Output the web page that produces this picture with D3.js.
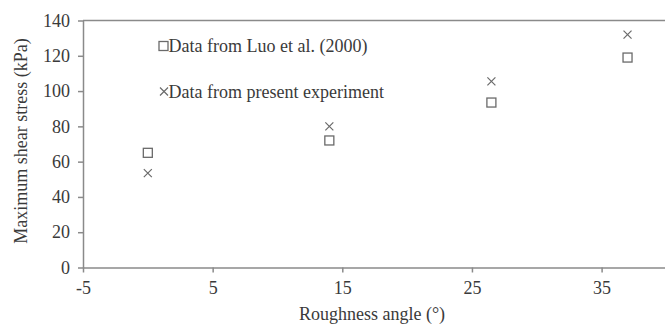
<!DOCTYPE html>
<html>
<head>
<meta charset="utf-8">
<script src="https://cdn.jsdelivr.net/npm/d3@7"></script>
<style>
  body { margin: 0; background: #fff; }
  svg text { font-family: 'Liberation Serif', 'DejaVu Serif', serif; fill: #3a3a3a; }
</style>
</head>
<body>
<div id="chart"></div>
<script>
// values
const angles = [0, 14, 26.5, 37];
const luoStress = [65, 72, 93.5, 119];
const presentStress = [53.5, 80, 105.5, 132];
const xTicks = [-5, 5, 15, 25, 35];
const yTicks = [0, 20, 40, 60, 80, 100, 120, 140];
const legendLabels = ['Data from Luo et al. (2000)', 'Data from present experiment'];

const width = 665, height = 324;
const margin = { left: 83, top: 20.5, right: 0, bottom: 57 };
const serif = "'Liberation Serif', 'DejaVu Serif', serif";

const svg = d3.select('#chart').append('svg')
    .attr('width', width)
    .attr('height', height)
    .attr('font-family', serif);

const x = d3.scaleLinear()
    .domain([-5, -5 + (width - margin.left) / 12.965])
    .range([margin.left, width]);

const y = d3.scaleLinear()
    .domain([0, 140])
    .range([height - margin.bottom + 0.5, margin.top]);

const axisColor = '#8a8a8a';
const markColor = '#6a6a6a';

// top border of the plot area
svg.append('line')
    .attr('x1', margin.left).attr('x2', width)
    .attr('y1', y(140)).attr('y2', y(140))
    .attr('stroke', axisColor).attr('stroke-width', 1.5);

const xAxis = svg.append('g')
    .attr('transform', `translate(0,${y(0)})`)
    .call(d3.axisBottom(x).tickValues(xTicks).tickFormat(d => String(d))
        .tickSize(5).tickSizeOuter(0).tickPadding(9));

const yAxis = svg.append('g')
    .attr('transform', `translate(${margin.left},0)`)
    .call(d3.axisLeft(y).tickValues(yTicks).tickFormat(d => String(d))
        .tickSize(5).tickSizeOuter(0).tickPadding(8));

[xAxis, yAxis].forEach(a => {
    a.attr('font-family', serif).attr('font-size', 18);
    a.selectAll('path, line').attr('stroke', axisColor).attr('stroke-width', 1.5);
    a.selectAll('text').attr('fill', '#3a3a3a');
});

// axis titles
svg.append('text')
    .attr('x', 372).attr('y', 320)
    .attr('text-anchor', 'middle')
    .attr('font-size', 18)
    .text('Roughness angle (\u00b0)');

svg.append('text')
    .attr('transform', `translate(27,${141}) rotate(-90)`)
    .attr('text-anchor', 'middle')
    .attr('font-size', 18)
    .text('Maximum shear stress (kPa)');

const sq = 9, cr = 4;

function drawSquares(g, pts) {
    g.selectAll('rect.sq')
        .data(pts)
        .enter().append('rect')
        .attr('class', 'sq')
        .attr('x', d => d[0] - sq / 2)
        .attr('y', d => d[1] - sq / 2)
        .attr('width', sq).attr('height', sq)
        .attr('fill', 'none')
        .attr('stroke', markColor).attr('stroke-width', 1.3);
}

function drawCrosses(g, pts) {
    g.selectAll('path.cr')
        .data(pts)
        .enter().append('path')
        .attr('class', 'cr')
        .attr('d', d => `M${d[0] - cr},${d[1] - cr}L${d[0] + cr},${d[1] + cr}M${d[0] - cr},${d[1] + cr}L${d[0] + cr},${d[1] - cr}`)
        .attr('stroke', markColor).attr('stroke-width', 1.2);
}

drawSquares(svg, angles.map((a, i) => [x(a), y(luoStress[i])]));
drawCrosses(svg, angles.map((a, i) => [x(a), y(presentStress[i])]));

// legend
const legend = svg.append('g');
drawSquares(legend, [[163.5, 46]]);
drawCrosses(legend, [[164, 91.5]]);
legend.selectAll('text')
    .data(legendLabels)
    .enter().append('text')
    .attr('x', 168.5)
    .attr('y', (d, i) => 46 + i * 45.5)
    .attr('dy', '0.35em')
    .attr('font-size', 18)
    .text(d => d);
</script>
</body>
</html>
